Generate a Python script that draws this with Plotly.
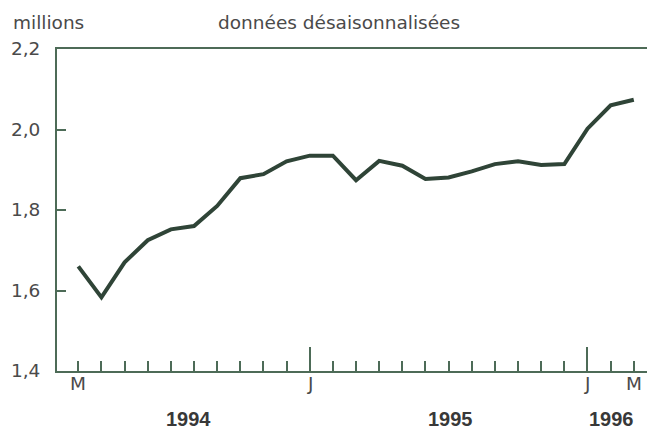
import plotly.graph_objects as go

# ---- data ----
months = ["1994-03", "1994-04", "1994-05", "1994-06", "1994-07", "1994-08", "1994-09",
          "1994-10", "1994-11", "1994-12", "1995-01", "1995-02", "1995-03", "1995-04",
          "1995-05", "1995-06", "1995-07", "1995-08", "1995-09", "1995-10", "1995-11",
          "1995-12", "1996-01", "1996-02", "1996-03"]
values = [1.66, 1.583, 1.67, 1.725, 1.752, 1.76, 1.81, 1.879, 1.889, 1.921, 1.935, 1.935,
          1.874, 1.922, 1.91, 1.877, 1.881, 1.896, 1.914, 1.921, 1.912, 1.914, 2.002,
          2.06, 2.074]
month_labels = ["M", "J", "J", "M"]
month_label_pos = ["1994-03", "1995-01", "1996-01", "1996-03"]
long_tick_pos = ["1995-01", "1996-01"]
year_labels = ["1994", "1995", "1996"]
year_label_pos = [4.74, 16.1, 23.05]
y_ticks = [1.4, 1.6, 1.8, 2.0, 2.2]
y_ticktext = ["1,4", "1,6", "1,8", "2,0", "2,2"]
unit_label = "millions"
subtitle = "données désaisonnalisées"

idx = {m: i for i, m in enumerate(months)}
x = list(range(len(months)))

TEXT = "#4a4a4a"
FRAME = "#4d6b57"
LINE = "#2f4437"
FONT = "DejaVu Sans, sans-serif"
BFONT = "Liberation Sans, Arial, sans-serif"
FS = 18.5

# page is offset by the body margin (8px)
OFF = 8
L, T, B, R = 57 - OFF, 49 - OFF, 448 - (371 - OFF), 7
PH = 448 - T - B


def py(page_y):
    return ((448 - B) - (page_y - OFF)) / PH


fig = go.Figure()
fig.add_trace(go.Scatter(x=x, y=values, mode="lines",
                         line=dict(color=LINE, width=4, shape="linear"),
                         hoverinfo="skip", showlegend=False))
fig.add_trace(go.Scatter(x=[x[0]], y=[values[0]], xaxis="x2", yaxis="y", mode="markers",
                         marker=dict(opacity=0), showlegend=False, hoverinfo="skip"))
fig.add_trace(go.Scatter(x=[x[0]], y=[values[0]], xaxis="x", yaxis="y2", mode="markers",
                         marker=dict(opacity=0), showlegend=False, hoverinfo="skip"))

xr = [-0.92, 24.96]
yr = [1.4, 2.2]

fig.update_layout(
    width=655, height=448,
    margin=dict(l=L, r=R, t=T, b=B),
    paper_bgcolor="white", plot_bgcolor="white",
    font=dict(family=FONT, size=FS, color=TEXT),
    xaxis=dict(range=xr, showgrid=False, zeroline=False, automargin=False,
               showline=True, linecolor=FRAME, linewidth=2, mirror=True,
               tickmode="array", tickvals=x, ticks="inside", ticklen=10,
               tickwidth=2, tickcolor=FRAME, showticklabels=False),
    xaxis2=dict(range=xr, overlaying="x", anchor="y", side="bottom", automargin=False,
                showgrid=False, zeroline=False, showline=False,
                tickmode="array", tickvals=[idx[m] for m in long_tick_pos],
                ticks="inside", ticklen=24, tickwidth=2, tickcolor=FRAME,
                showticklabels=False),
    yaxis=dict(range=yr, showgrid=False, zeroline=False, automargin=False,
               showline=True, linecolor=FRAME, linewidth=2, mirror=False,
               tickmode="array", tickvals=y_ticks, ticktext=y_ticktext,
               ticks="inside", ticklen=9, tickwidth=2, tickcolor=FRAME,
               ticklabelstandoff=11, tickfont=dict(size=FS, color=TEXT)),
    yaxis2=dict(range=yr, overlaying="y", anchor="x", side="right", automargin=False,
                showgrid=False, zeroline=False, showline=False,
                tickmode="array", tickvals=y_ticks[1:-1], ticks="inside",
                ticklen=7, tickwidth=2, tickcolor=FRAME, showticklabels=False),
)

for lab, pos in zip(month_labels, month_label_pos):
    fig.add_annotation(x=idx[pos], xref="x", y=py(383), yref="paper", yanchor="middle",
                       text=lab, showarrow=False, font=dict(size=FS, color=TEXT))

for lab, pos in zip(year_labels, year_label_pos):
    fig.add_annotation(x=pos, xref="x", y=py(419), yref="paper", yanchor="middle",
                       text=f"<b>{lab}</b>", showarrow=False,
                       font=dict(size=20, color="#383838", family=BFONT))

fig.add_annotation(x=0, xref="paper", xshift=11 - 57, xanchor="left",
                   y=py(22), yref="paper", yanchor="middle",
                   text=unit_label, showarrow=False, font=dict(size=FS, color=TEXT))
fig.add_annotation(x=0, xref="paper", xshift=216 - 57, xanchor="left",
                   y=py(22), yref="paper", yanchor="middle",
                   text=subtitle, showarrow=False, font=dict(size=FS, color=TEXT))

fig.write_html("out.html")
